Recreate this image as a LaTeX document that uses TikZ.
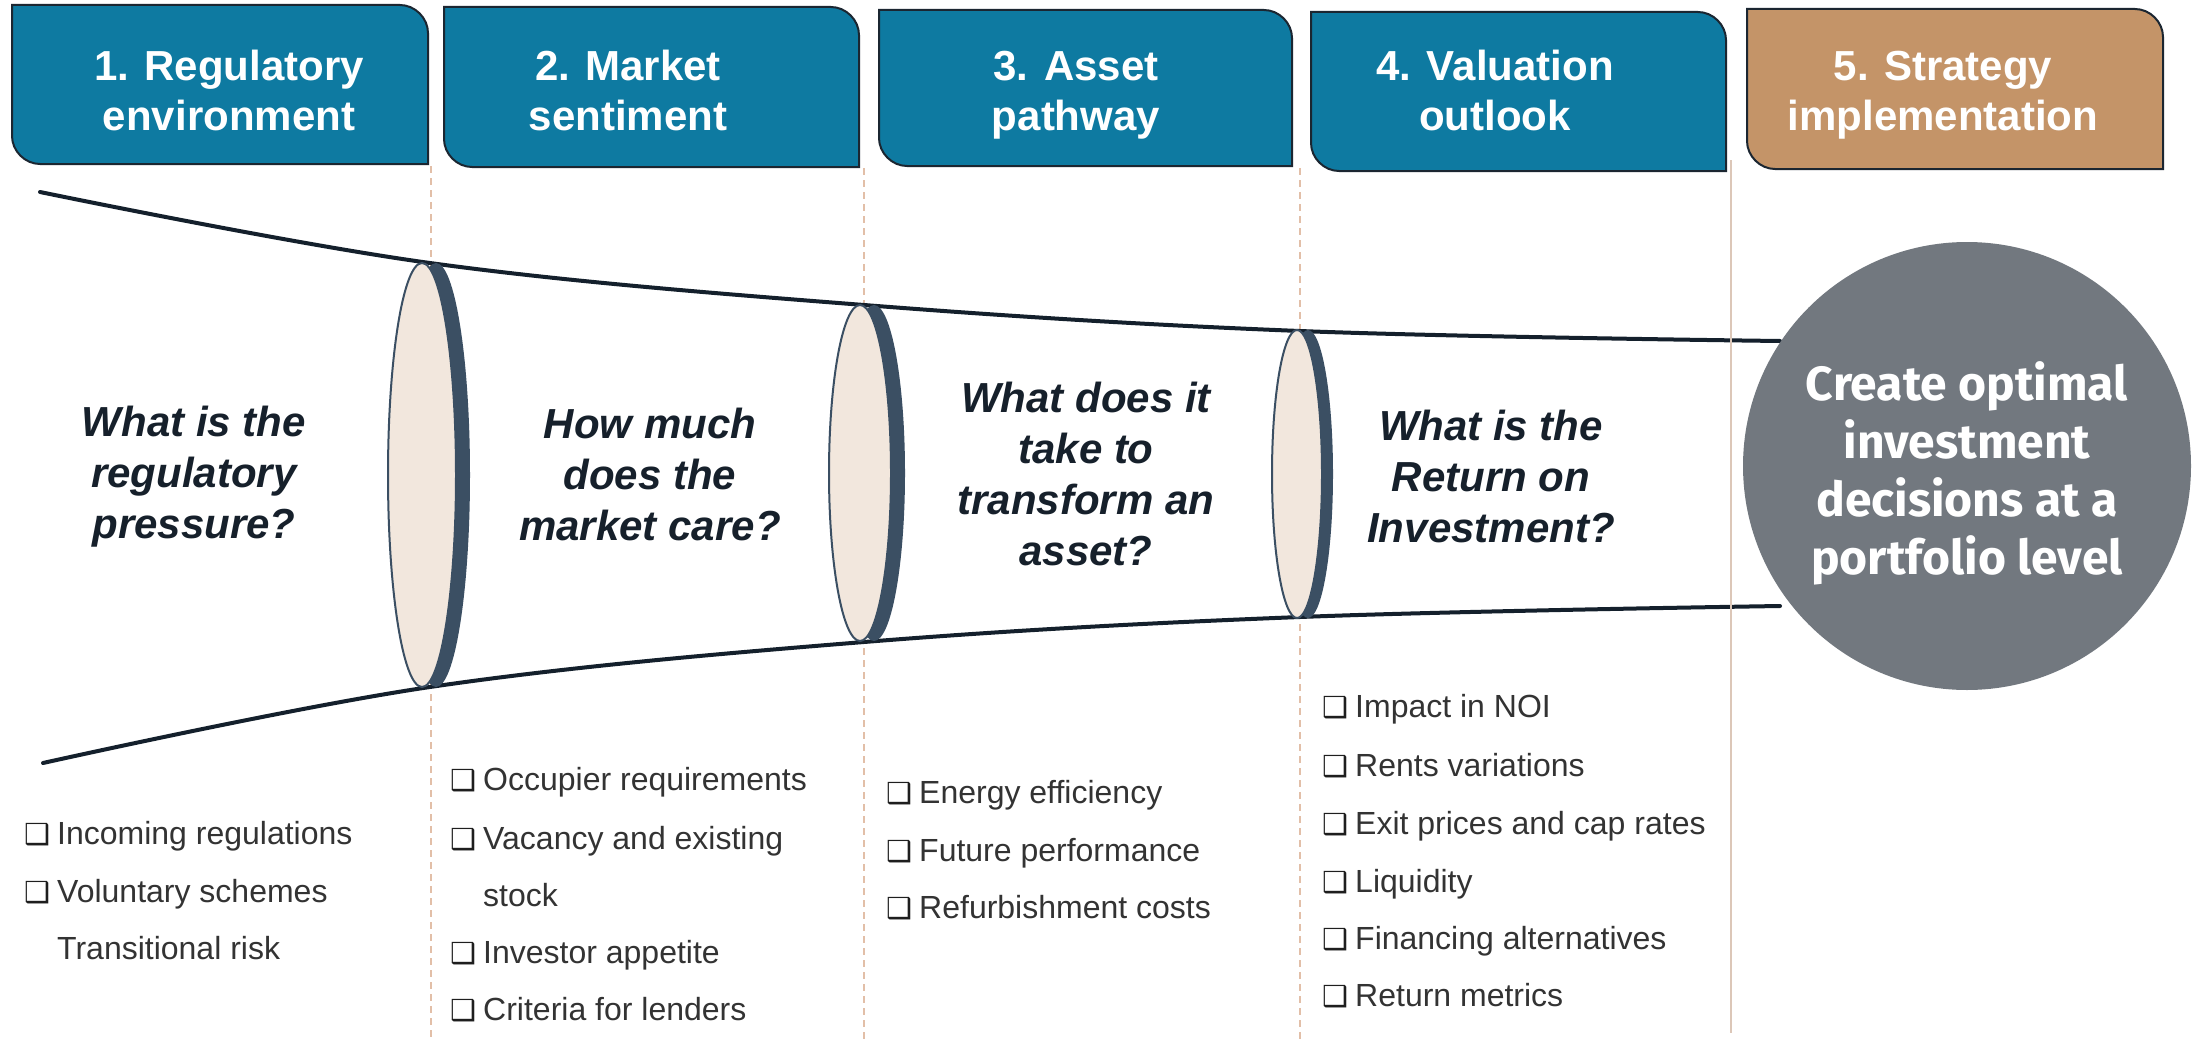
\documentclass[tikz,border=0pt]{standalone}
\usepackage{fontspec}
\setmainfont{Liberation Sans}
\newfontfamily\symfont{DejaVu Sans}
\newfontfamily\circfont{Fira Sans}
\usetikzlibrary{shapes.geometric}

\definecolor{teal}{HTML}{0E7AA1}
\definecolor{tan}{HTML}{C49468}
\definecolor{hdredge}{HTML}{1B2631}
\definecolor{navy}{HTML}{14202C}
\definecolor{rimcol}{HTML}{3B4F63}
\definecolor{facecol}{HTML}{F2E7DD}
\definecolor{guidecol}{HTML}{E2BFA8}
\definecolor{solidguide}{HTML}{DCC7B8}
\definecolor{goalcol}{HTML}{72787F}
\definecolor{itemtext}{HTML}{333333}
\definecolor{boxglyph}{HTML}{1E1E1E}
\definecolor{qtext}{HTML}{16202B}

% header tab with rounded top-right and bottom-left corners
\newcommand\hdrbox[5]{%
  \filldraw[fill=#5, draw=hdredge, line width=2pt]
    (#1,#2) -- ({#3-28},#2) .. controls ({#3-13},#2) and (#3,{#2+13}) .. (#3,{#2+28})
    -- (#3,#4) -- ({#1+28},#4) .. controls ({#1+13},#4) and (#1,{#4-13}) .. (#1,{#4-28})
    -- cycle;}
% checkbox bullet of a list line
\newcommand\chk{\makebox[33pt][l]{\color{boxglyph}\symfont\fontsize{29}{29}\selectfont ❑}}
% uniform line height for stacked labels
\newcommand\rowstrut{\strut}

\begin{document}
\begin{tikzpicture}[x=1pt,y=-1pt,
  hdrtext/.style={text=white, font=\bfseries\fontsize{42}{50}\selectfont, align=center, inner sep=0pt},
  question/.style={text=qtext, font=\bfseries\itshape\fontsize{42}{51}\selectfont, align=center, inner sep=0pt},
  item/.style={anchor=base west, inner sep=0pt, text=itemtext, font=\fontsize{32}{38}\selectfont},
  guide/.style={draw=guidecol, line width=1.3pt, dash pattern=on 7pt off 5pt},
  funnel/.style={draw=navy, line width=4pt, line cap=round},
  rim/.style={ellipse, fill=rimcol, draw=none, inner sep=0pt},
  face/.style={ellipse, fill=facecol, draw=rimcol, line width=2pt, inner sep=0pt},
]
\useasboundingbox (0,0) rectangle (2206,1041);
\fill[white] (0,0) rectangle (2206,1041);

% stage separators
\draw[guide] (431,166) -- (431,1041);
\draw[guide] (864,168) -- (864,1041);
\draw[guide] (1300,168) -- (1300,1041);

% header tabs
\hdrbox{12}{5}{428}{164}{teal}
\hdrbox{444}{7}{859}{167}{teal}
\hdrbox{879}{10}{1292}{166}{teal}
\hdrbox{1311}{12}{1726}{171}{teal}
\hdrbox{1747}{9}{2163}{169}{tan}

\node[hdrtext] (h1) at (229,95) {\rowstrut 1. Regulatory\\\rowstrut environment};
\node[hdrtext] (h2) at (628,95) {\rowstrut 2. Market\\\rowstrut sentiment};
\node[hdrtext] (h3) at (1076,95) {\rowstrut 3. Asset\\\rowstrut pathway};
\node[hdrtext] (h4) at (1495,95) {\rowstrut 4. Valuation\\\rowstrut outlook};
\node[hdrtext] (h5) at (1943,95) {\rowstrut 5. Strategy\\\rowstrut implementation};

% funnel outline
\draw[funnel] plot[smooth, tension=0.6] coordinates {(40,192) (430,263) (864,305) (1300,331) (1780,341)};
\draw[funnel] plot[smooth, tension=0.6] coordinates {(43,763) (430,687) (864,642) (1300,617) (1780,606)};

\draw[draw=solidguide, line width=1.6pt] (1731,160) -- (1731,1033);

% discs along the funnel
\node[rim, minimum width=68, minimum height=424] (rim1) at (436,475) {};
\node[face, minimum width=68, minimum height=424] (disc1) at (422,475) {};
\node[rim, minimum width=62, minimum height=336] (rim2) at (874,473) {};
\node[face, minimum width=62, minimum height=336] (disc2) at (860,473) {};
\node[rim, minimum width=50, minimum height=288] (rim3) at (1308,474) {};
\node[face, minimum width=50, minimum height=288] (disc3) at (1297,474) {};

% goal
\node[circle, fill=goalcol, minimum size=448, inner sep=0pt] (goal) at (1967,466) {};
\node[text=white, align=center, inner sep=0pt, font=\circfont\bfseries\fontsize{48}{58}\selectfont] (goaltext) at (1967,476)
  {\rowstrut Create optimal\\\rowstrut investment\\\rowstrut decisions at a\\\rowstrut portfolio level};

% guiding questions
\node[question] (q1) at (194,477) {\rowstrut What is the\\\rowstrut regulatory\\\rowstrut pressure?};
\node[question] (q2) at (650,479) {\rowstrut How much\\\rowstrut does the\\\rowstrut market care?};
\node[question] (q3) at (1086,479) {\rowstrut What does it\\\rowstrut take to\\\rowstrut transform an\\\rowstrut asset?};
\node[question] (q4) at (1491,481) {\rowstrut What is the\\\rowstrut Return on\\\rowstrut Investment?};

% checklists
\node[item] (a1) at (24,844) {\chk Incoming regulations};
\node[item] (a2) at (24,902) {\chk Voluntary schemes};
\node[item] (a3) at (57,959) {Transitional risk};

\node[item] (b1) at (450,790) {\chk Occupier requirements};
\node[item] (b2) at (450,849) {\chk Vacancy and existing};
\node[item] (b3) at (483,906) {stock};
\node[item] (b4) at (450,963) {\chk Investor appetite};
\node[item] (b5) at (450,1020) {\chk Criteria for lenders};

\node[item] (c1) at (886,803) {\chk Energy efficiency};
\node[item] (c2) at (886,861) {\chk Future performance};
\node[item] (c3) at (886,918) {\chk Refurbishment costs};

\node[item] (d1) at (1322,717) {\chk Impact in NOI};
\node[item] (d2) at (1322,776) {\chk Rents variations};
\node[item] (d3) at (1322,834) {\chk Exit prices and cap rates};
\node[item] (d4) at (1322,892) {\chk Liquidity};
\node[item] (d5) at (1322,949) {\chk Financing alternatives};
\node[item] (d6) at (1322,1006) {\chk Return metrics};
\end{tikzpicture}
\end{document}
